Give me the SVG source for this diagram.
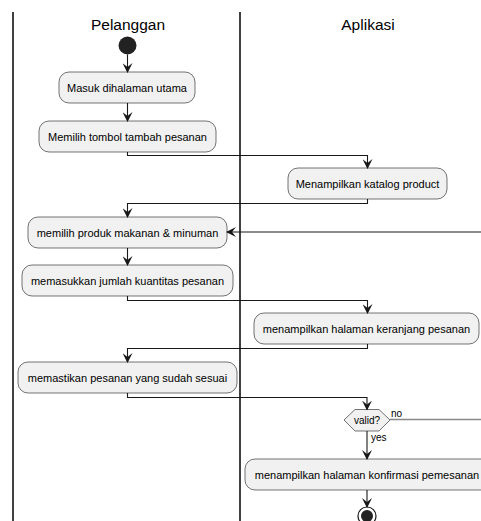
<svg xmlns="http://www.w3.org/2000/svg" width="481" height="521" viewBox="0 0 481 521">
<defs>
<style>
.lane{stroke:#000;stroke-width:1.5;fill:none}
.title{font-family:"Liberation Sans",Arial,sans-serif;font-size:15.5px;fill:#000;text-anchor:middle}
.act rect{fill:#F1F1F1;stroke:#181818;stroke-width:0.6}
.act text{font-family:"Liberation Sans",Arial,sans-serif;font-size:11px;fill:#000;text-anchor:middle}
.c{stroke:#181818;stroke-width:1.1;fill:none}
.lbl{font-family:"Liberation Sans",Arial,sans-serif;font-size:10px;fill:#000}
</style>
<marker id="ah" viewBox="0 0 10 10" refX="9" refY="5" markerWidth="10" markerHeight="10" markerUnits="userSpaceOnUse" orient="auto">
<path d="M0,0 L10,5 L0,10 L4,5 Z" fill="#181818"/>
</marker>
</defs>
<g id="lanes">
<line class="lane" x1="13" y1="12" x2="13" y2="521"/>
<line class="lane" x1="240" y1="12" x2="240" y2="521"/>
<text class="title" x="128" y="30">Pelanggan</text>
<text class="title" x="368" y="30">Aplikasi</text>
</g>
<g id="start"><circle cx="127.5" cy="45.5" r="9" fill="#222"/></g>
<g id="a1" class="act"><rect x="59" y="72" width="136" height="31" rx="10"/><text x="127" y="91.5">Masuk dihalaman utama</text></g>
<g id="a2" class="act"><rect x="39" y="121" width="177" height="31" rx="10"/><text x="127.5" y="140.5">Memilih tombol tambah pesanan</text></g>
<g id="a3" class="act"><rect x="288" y="168" width="159" height="31" rx="10"/><text x="367.5" y="187.5">Menampilkan katalog product</text></g>
<g id="a4" class="act"><rect x="28" y="217" width="199" height="31" rx="10"/><text x="127.5" y="236.5">memilih produk makanan &amp; minuman</text></g>
<g id="a5" class="act"><rect x="22" y="265" width="211" height="31" rx="10"/><text x="127.5" y="284.5">memasukkan jumlah kuantitas pesanan</text></g>
<g id="a6" class="act"><rect x="254" y="313" width="225" height="31" rx="10"/><text x="366.5" y="332.5">menampilkan halaman keranjang pesanan</text></g>
<g id="a7" class="act"><rect x="18" y="362" width="219" height="31" rx="10"/><text x="127.5" y="381.5">memastikan pesanan yang sudah sesuai</text></g>
<g id="decision">
<polygon points="344,420 355,409.5 379,409.5 390,420 379,431 355,431" fill="#F1F1F1" stroke="#181818" stroke-width="0.6"/>
<text class="lbl" x="367" y="424" text-anchor="middle">valid?</text>
</g>
<g id="a8" class="act"><rect x="245" y="459" width="250" height="31" rx="10"/><text x="367" y="478.5">menampilkan halaman konfirmasi pemesanan</text></g>
<g id="end"><circle cx="367" cy="516" r="9" fill="none" stroke="#181818" stroke-width="1.2"/><circle cx="367" cy="516" r="6" fill="#222"/></g>
<g id="connectors">
<path class="c" d="M127.5,54.5 V72" marker-end="url(#ah)"/>
<path class="c" d="M127.5,103 V121" marker-end="url(#ah)"/>
<path class="c" d="M127.5,152 V155.5 H367.5 V168" marker-end="url(#ah)"/>
<path class="c" d="M367.5,199 V203.5 H127.5 V217" marker-end="url(#ah)"/>
<path class="c" d="M481,232 H227" marker-end="url(#ah)"/>
<path class="c" d="M127.5,248 V265" marker-end="url(#ah)"/>
<path class="c" d="M127.5,296 V300.5 H367.5 V313" marker-end="url(#ah)"/>
<path class="c" d="M367.5,344 V348.5 H127.5 V362" marker-end="url(#ah)"/>
<path class="c" d="M127.5,393 V397.5 H367 V409.5" marker-end="url(#ah)"/>
<path d="M390,419.5 H481" stroke="#888" stroke-width="1.5" fill="none"/>
<text class="lbl" x="391" y="417">no</text>
<path class="c" d="M367,431 V459" marker-end="url(#ah)"/>
<text class="lbl" x="371" y="441">yes</text>
<path class="c" d="M367,490 V507" marker-end="url(#ah)"/>
</g>
</svg>
